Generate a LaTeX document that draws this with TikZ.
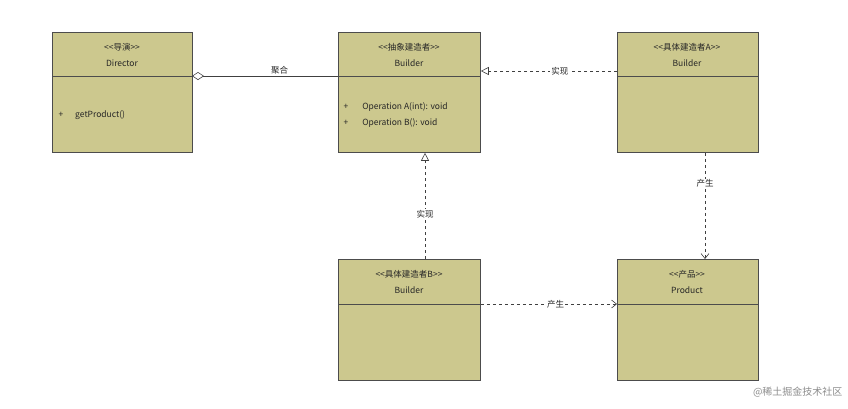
\documentclass[tikz,border=0pt]{standalone}
\usepackage{fontspec}
\setmainfont{Noto Sans CJK SC}
\usetikzlibrary{arrows.meta}
\newcommand{\ltlt}{{<}{<}}
\newcommand{\gtgt}{{>}{>}}
\begin{document}
\begin{tikzpicture}[x=1pt,y=-1pt,
  cls/.style={draw=black!70,fill={rgb,255:red,204;green,200;blue,142},line width=0.8pt},
  dv/.style={draw=black!70,line width=0.8pt},
  txt/.style={font=\fontsize{8.5}{16}\selectfont,text=black!85,align=center},
  lbl/.style={font=\fontsize{8.5}{10}\selectfont,text=black!85,fill=white,inner sep=1pt},
  dsh/.style={dashed,draw=black!75,line width=0.6pt},
  real/.style={dsh,-{Triangle[open,length=8pt,width=8pt]}},
  dep/.style={dsh,-{Straight Barb[length=5pt,width=8pt]}}]
\useasboundingbox (0,0) rectangle (848,408);
% boxes
\node[cls,minimum width=140pt,minimum height=120pt,anchor=north west,inner sep=0] (dir) at (52,32) {};
\node[cls,minimum width=142pt,minimum height=120pt,anchor=north west,inner sep=0] (ab) at (338,32) {};
\node[cls,minimum width=141pt,minimum height=120pt,anchor=north west,inner sep=0] (ba) at (617,32) {};
\node[cls,minimum width=142pt,minimum height=121pt,anchor=north west,inner sep=0] (bb) at (338,259) {};
\node[cls,minimum width=141pt,minimum height=121pt,anchor=north west,inner sep=0] (pr) at (617,259) {};
\draw[dv] (52,76) -- (192,76);
\draw[dv] (338,76) -- (480,76);
\draw[dv] (617,76) -- (758,76);
\draw[dv] (338,304) -- (480,304);
\draw[dv] (617,304) -- (758,304);
% texts
\node[txt] (t1) at (122,55) {\ltlt 导演\gtgt\\Director};
\node[txt] (t2) at (409,55) {\ltlt 抽象建造者\gtgt\\Builder};
\node[txt] (t3) at (687,55) {\ltlt 具体建造者A\gtgt\\Builder};
\node[txt] (t4) at (409,282) {\ltlt 具体建造者B\gtgt\\Builder};
\node[txt] (t5) at (687,282) {\ltlt 产品\gtgt\\Product};
\node[txt,anchor=west] (m1) at (55,115) {+\hspace{12pt}getProduct()};
\node[txt,anchor=west,align=left] (m2) at (340,115) {+\hspace{14pt}Operation A(int): void\\+\hspace{14pt}Operation B(): void};
% connectors
\coordinate (agg) at (338,76);
\draw[draw=black!75,line width=0.6pt,{Diamond[open,length=12pt,width=8pt]}-] (192,76) -- node[lbl,above=0pt,fill=none,pos=0.6]{聚合} (agg);
\draw[real] (ba.west |- 0,71) -- node[lbl,pos=0.42]{实现} (ab.east |- 0,71);
\draw[real] (bb.north -| 425,0) -- node[lbl,pos=0.42]{实现} (ab.south -| 425,0);
\draw[dep] (ba.south -| 705,0) -- node[lbl,pos=0.29]{产生} (pr.north -| 705,0);
\draw[dep] (bb.east |- 0,304) -- node[lbl,pos=0.55]{产生} (pr.west |- 0,304);
% watermark
\node[font=\fontsize{10}{12}\selectfont,text=black!45,anchor=east] (wm) at (846,392) {@稀土掘金技术社区};
\end{tikzpicture}
\end{document}
